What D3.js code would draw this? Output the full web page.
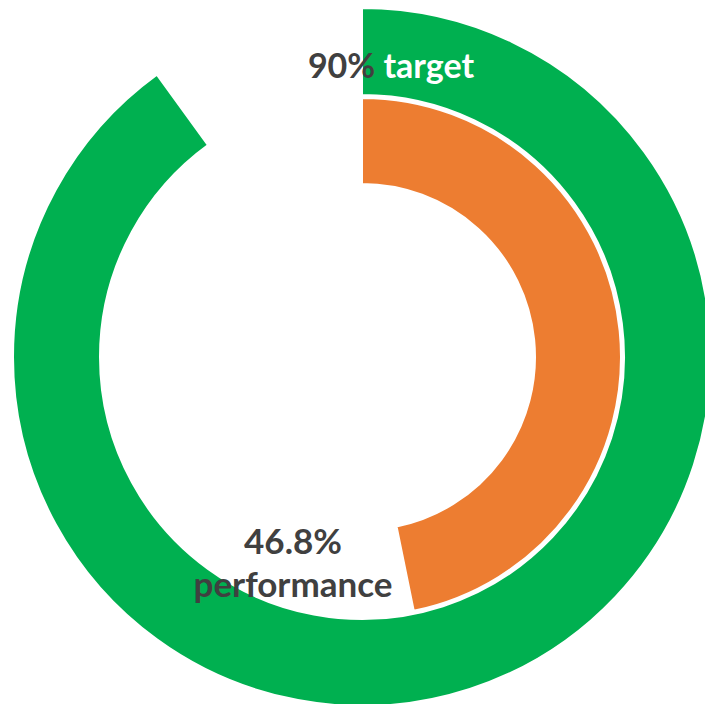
<!DOCTYPE html>
<html>
<head>
<meta charset="utf-8">
<script src="https://cdn.jsdelivr.net/npm/d3@7"></script>
<style>
  body { margin: 0; background: #fff; }
  text { font-family: Lato, "Open Sans", sans-serif; font-weight: bold; }
</style>
</head>
<body>
<div id="my_dataviz"></div>
<script>
// data: two rings, the part left over is drawn blank
var targetValues = [90, 10];
var performanceValues = [46.8, 53.2];
var targetLabel = ["90%", " target"];
var performanceLabel = ["46.8%", "performance"];

var width = 705, height = 704;
var cx = 362, cy = 357;

var svg = d3.select("#my_dataviz")
            .append("svg")
            .attr("width", width)
            .attr("height", height)
            .append("g")
            .attr("transform", "translate(" + cx + "," + cy + ")");

// no sorting, start at 12 o'clock going clockwise
var pie = d3.pie().sort(null).value(function(d) { return d; });

var outerArc = d3.arc().innerRadius(262).outerRadius(349);
var innerArc = d3.arc().innerRadius(173).outerRadius(259);

// outer ring = target
svg.append("g")
    .selectAll("path")
    .data(pie(targetValues))
    .enter()
    .append("path")
    .attr("d", outerArc)
    .style("fill", function(d, i) { return i == 0 ? "#00B050" : "none"; })
    .style("stroke", function(d, i) { return i == 0 ? "#fff" : "none"; })
    .style("stroke-width", 2);

// inner ring = performance
svg.append("g")
    .selectAll("path")
    .data(pie(performanceValues))
    .enter()
    .append("path")
    .attr("d", innerArc)
    .style("fill", function(d, i) { return i == 0 ? "#ED7D31" : "none"; })
    .style("stroke", function(d, i) { return i == 0 ? "#fff" : "none"; })
    .style("stroke-width", 2);

// labels
var t = svg.append("text")
    .attr("x", 391 - cx)
    .attr("y", 78 - cy)
    .attr("text-anchor", "middle")
    .style("font-size", "34px");
t.append("tspan").style("fill", "#404040").text(targetLabel[0]);
t.append("tspan").style("fill", "#fff").text(targetLabel[1]);

svg.append("text")
    .attr("x", 293 - cx)
    .attr("y", 554 - cy)
    .attr("text-anchor", "middle")
    .style("font-size", "35px")
    .style("fill", "#404040")
    .text(performanceLabel[0]);

svg.append("text")
    .attr("x", 293 - cx)
    .attr("y", 597 - cy)
    .attr("text-anchor", "middle")
    .style("font-size", "35px")
    .style("fill", "#404040")
    .text(performanceLabel[1]);
</script>
</body>
</html>
